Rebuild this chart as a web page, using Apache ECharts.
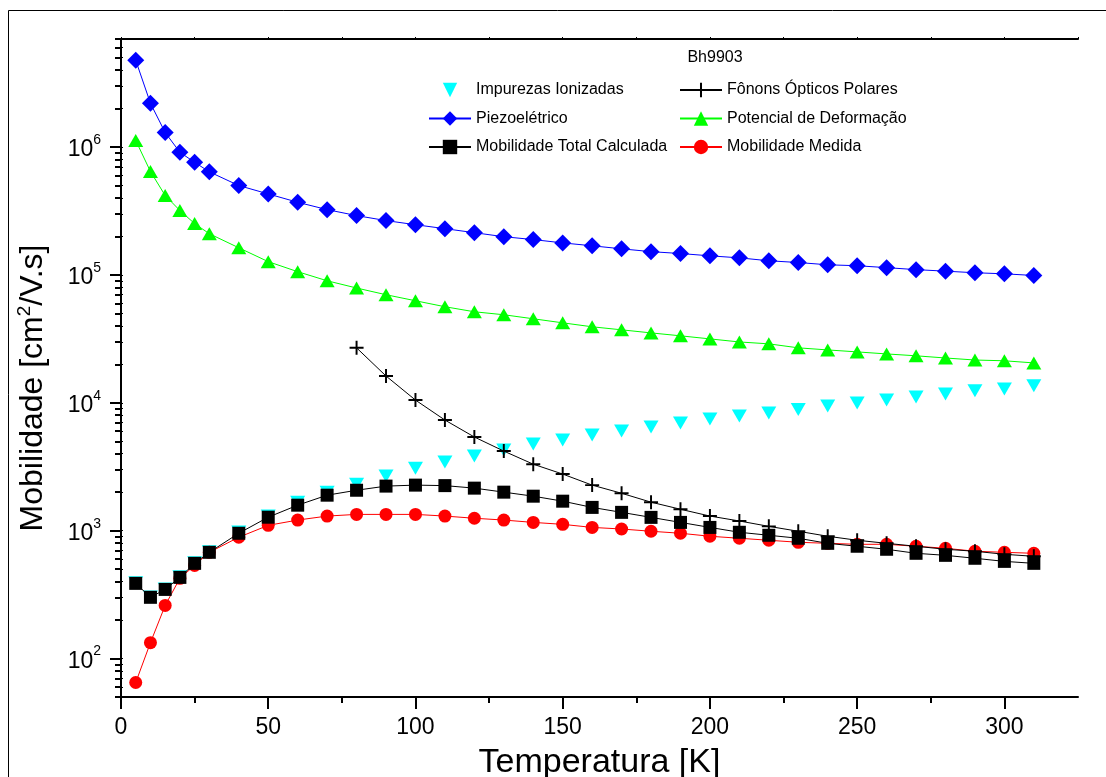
<!DOCTYPE html>
<html>
<head>
<meta charset="utf-8">
<script src="https://cdn.jsdelivr.net/npm/echarts@6/dist/echarts.min.js"></script>
<style>
html,body{margin:0;padding:0;background:#fff;}
#chart{width:1106px;height:777px;}
</style>
</head>
<body>
<div id="chart"></div>
<script>
// ---- data ----
const temps = [5,10,15,20,25,30,40,50,60,70,80,90,100,110,120,130,140,150,160,170,180,190,200,210,220,230,240,250,260,270,280,290,300,310];
const impurezas = [392,303,350,435,560,685,975,1300,1670,2000,2310,2670,3080,3440,3830,4270,4750,5110,5590,6010,6460,6950,7460,7880,8320,8860,9440,9960,10500,11100,11700,12400,12800,13600];
const piezo = [4.77e6,2.2e6,1.30e6,9.1e5,7.6e5,6.4e5,5.0e5,4.3e5,3.7e5,3.24e5,2.91e5,2.66e5,2.47e5,2.3e5,2.14e5,1.99e5,1.89e5,1.78e5,1.69e5,1.60e5,1.52e5,1.47e5,1.41e5,1.36e5,1.29e5,1.25e5,1.20e5,1.18e5,1.14e5,1.10e5,1.07e5,1.04e5,1.02e5,9.9e4];
const deformacao = [1.127e6,6.44e5,4.18e5,3.19e5,2.52e5,2.10e5,1.63e5,1.27e5,1.06e5,9.0e4,7.9e4,7.0e4,6.28e4,5.64e4,5.15e4,4.88e4,4.54e4,4.22e4,3.93e4,3.72e4,3.52e4,3.34e4,3.16e4,2.99e4,2.89e4,2.69e4,2.59e4,2.50e4,2.41e4,2.33e4,2.24e4,2.16e4,2.13e4,2.05e4];
const totalCalc = [387,301,347,431,555,677,954,1274,1582,1894,2070,2230,2270,2250,2150,2000,1860,1700,1520,1390,1270,1160,1060,971,920,872,796,755,715,665,641,608,575,555];
const medida = [64.9,133,260,424,535,677,888,1100,1210,1300,1340,1340,1340,1300,1250,1210,1160,1120,1060,1030,989,954,904,872,841,811,796,782,782,755,728,690,677,665];
const fononTemps = [80,90,100,110,120,130,140,150,160,170,180,190,200,210,220,230,240,250,260,270,280,290,300,310];
const fonons = [26900,16200,10500,7330,5400,4190,3310,2770,2270,1960,1670,1470,1300,1190,1080,989,904,841,796,755,715,690,653,630];
const xMajorTicks = [0,50,100,150,200,250,300];
const xMinorTicks = [25,75,125,175,225,275];
const xTopTicks = [0,25,50,75,100,125,150,175,200,225,250,275,300,325];
const yMajorTicks = [100,1000,10000,100000,1000000];
const yMinorTicks = [50,60,70,80,90,200,300,400,500,600,700,800,900,2000,3000,4000,5000,6000,7000,8000,9000,20000,30000,40000,50000,60000,70000,80000,90000,200000,300000,400000,500000,600000,700000,800000,900000,2000000,3000000,4000000,5000000,6000000,7000000];
const names = {
  imp: 'Impurezas Ionizadas', fon: 'Fônons Ópticos Polares', piezo: 'Piezoelétrico',
  def: 'Potencial de Deformação', tot: 'Mobilidade Total Calculada', med: 'Mobilidade Medida'
};
const sampleName = 'Bh9903';

function pairs(xs, ys){ return xs.map((x,i)=>[x, ys[i]]); }

const FONT = '"Liberation Sans", Arial, sans-serif';
const chart = echarts.init(document.getElementById('chart'), null, {renderer:'canvas'});

const plusPath = 'path://M4.3,0H5.7V4.3H10V5.7H5.7V10H4.3V5.7H0V4.3H4.3Z';
const invTri = 'path://M0,0L10,0L5,9Z';

const commonX = {type:'value', min:0, max:325};
const commonY = {type:'log', logBase:10, min:50, max:7e6};
const legendText = {fontFamily:FONT, fontSize:16, color:'#000'};

const option = {
  backgroundColor:'#fff',
  animation:false,
  grid:{left:121, top:39, right:28, bottom:80, containLabel:false, outerBoundsMode:'none'},
  graphic:[
    {type:'rect', shape:{x:8.5, y:10.5, width:1200, height:900}, style:{fill:'none', stroke:'#000', lineWidth:1}, silent:true, z:-1},
    {type:'text', x:715, y:58, style:{text:sampleName, fontFamily:FONT, fontSize:16, fill:'#000', align:'center', verticalAlign:'middle'}}
  ],
  legend:[
    {data:[names.imp, names.piezo, names.tot], orient:'vertical', left:428, top:82, padding:0,
     itemWidth:42, itemHeight:18, itemGap:12.5, selectedMode:false, textStyle:legendText},
    {data:[names.fon, names.def, names.med], orient:'vertical', left:679, top:82, padding:0,
     itemWidth:42, itemHeight:18, itemGap:12.5, selectedMode:false, textStyle:legendText}
  ],
  xAxis:[
    Object.assign({}, commonX, {position:'bottom', name:'Temperatura [K]', nameLocation:'middle', nameGap:49,
      nameTextStyle:{fontFamily:FONT, fontSize:34, color:'#000'},
      axisLine:{show:true, lineStyle:{color:'#000', width:2}},
      axisTick:{show:true, length:12, customValues:xMajorTicks, lineStyle:{color:'#000', width:2}},
      axisLabel:{customValues:xMajorTicks, fontFamily:FONT, fontSize:23, color:'#000', margin:19},
      splitLine:{show:false}}),
    Object.assign({}, commonX, {position:'bottom',
      axisLine:{show:false},
      axisTick:{show:true, length:6, customValues:xMinorTicks, lineStyle:{color:'#000', width:2}},
      axisLabel:{show:false}, splitLine:{show:false}}),
    Object.assign({}, commonX, {position:'top',
      axisLine:{show:true, lineStyle:{color:'#000', width:2}},
      axisTick:{show:true, length:2, customValues:xTopTicks, lineStyle:{color:'#000', width:1}},
      axisLabel:{show:false}, splitLine:{show:false}})
  ],
  yAxis:[
    Object.assign({}, commonY, {position:'left', name:'Mobilidade [cm{sup|2}/V.s]', nameLocation:'middle', nameGap:70,
      nameTextStyle:{fontFamily:FONT, fontSize:32, color:'#000', padding:[0,40,0,0],
        rich:{sup:{fontFamily:FONT, fontSize:19, color:'#000', padding:[0,0,17,0]}}},
      axisLine:{show:true, lineStyle:{color:'#000', width:2}},
      axisTick:{show:true, length:11, customValues:yMajorTicks, lineStyle:{color:'#000', width:2}},
      axisLabel:{customValues:yMajorTicks, margin:20, color:'#000',
        formatter:function(v){ return '{b|10}{s|' + Math.round(Math.log10(v)) + '}'; },
        rich:{b:{fontFamily:FONT, fontSize:23, color:'#000', padding:[6,0,0,0]}, s:{fontFamily:FONT, fontSize:14, color:'#000', padding:[0,0,14,0]}}},
      splitLine:{show:false}}),
    Object.assign({}, commonY, {position:'left',
      axisLine:{show:false},
      axisTick:{show:true, length:6, customValues:yMinorTicks, lineStyle:{color:'#000', width:2}},
      axisLabel:{show:false}, splitLine:{show:false}}),
    Object.assign({}, commonY, {position:'right',
      axisLine:{show:true, lineStyle:{color:'#000', width:2}},
      axisTick:{show:true, length:2, customValues:yMajorTicks.concat(yMinorTicks), lineStyle:{color:'#000', width:1}},
      axisLabel:{show:false}, splitLine:{show:false}})
  ],
  series:[
    {name:names.imp, type:'line', data:pairs(temps, impurezas), symbol:invTri, symbolSize:[15,13], symbolKeepAspect:false,
     lineStyle:{opacity:0, width:0}, itemStyle:{color:'#00FFFF'}, z:2},
    {name:names.def, type:'line', data:pairs(temps, deformacao), symbol:'triangle', symbolSize:[15,13],
     lineStyle:{color:'#00FF00', width:1}, itemStyle:{color:'#00FF00'}, z:3},
    {name:names.piezo, type:'line', data:pairs(temps, piezo), symbol:'diamond', symbolSize:17,
     lineStyle:{color:'#0000FF', width:1}, itemStyle:{color:'#0000FF'}, z:3},
    {name:names.med, type:'line', data:pairs(temps, medida), symbol:'circle', symbolSize:13,
     lineStyle:{color:'#FF0000', width:1}, itemStyle:{color:'#FF0000'}, z:4},
    {name:names.fon, type:'line', data:pairs(fononTemps, fonons), symbol:plusPath, symbolSize:14,
     lineStyle:{color:'#000', width:1}, itemStyle:{color:'#000'}, z:5},
    {name:names.tot, type:'line', data:pairs(temps, totalCalc), symbol:'rect', symbolSize:13,
     lineStyle:{color:'#000', width:1}, itemStyle:{color:'#000'}, z:6}
  ]
};
chart.setOption(option);
</script>
</body>
</html>
